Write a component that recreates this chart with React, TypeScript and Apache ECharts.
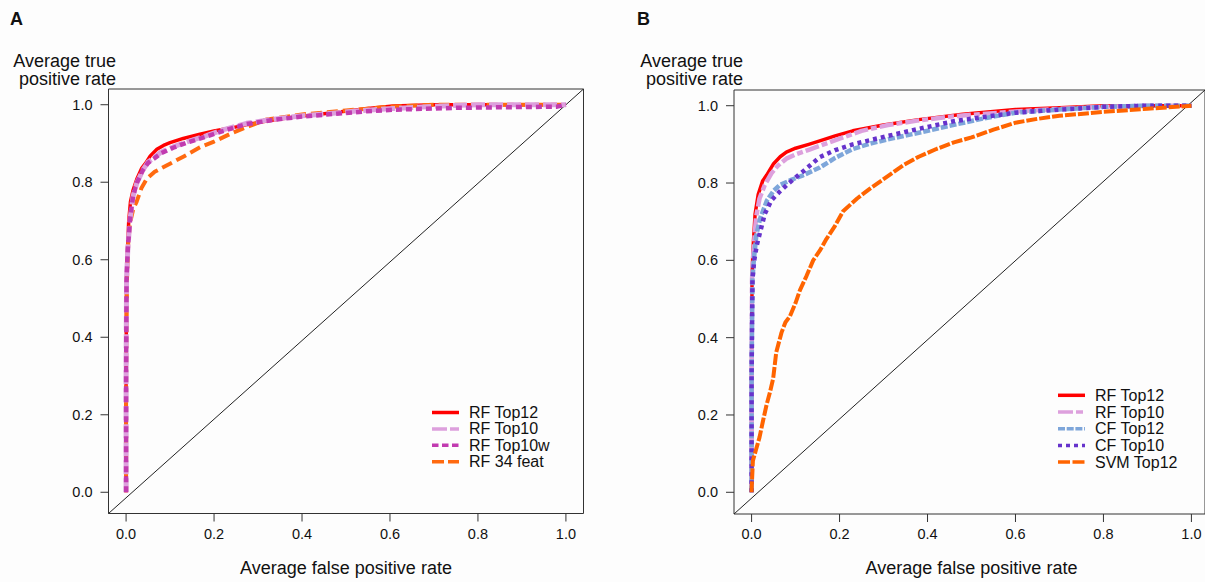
import React, { useEffect, useRef } from "react";
import * as echarts from "echarts";

// ---------- data (false positive rate, true positive rate) ----------
const tickMin = 0;
const tickMax = 1;
const tickStep = 0.2;
const tickValues = [0, 0.2, 0.4, 0.6, 0.8, 1.0];

const namesA = ["RF Top12", "RF Top10", "RF Top10w", "RF 34 feat"];
const namesB = ["RF Top12", "RF Top10", "CF Top12", "CF Top10", "SVM Top12"];

const rfTop12A = [
  [0, 0], [0, 0.3], [0.001, 0.55], [0.003, 0.62], [0.006, 0.7], [0.01, 0.75], [0.016, 0.78],
  [0.025, 0.81], [0.035, 0.835], [0.045, 0.85], [0.055, 0.868], [0.07, 0.885], [0.085, 0.895],
  [0.1, 0.902], [0.13, 0.913], [0.168, 0.924], [0.2, 0.932], [0.243, 0.941], [0.28, 0.95],
  [0.32, 0.958], [0.38, 0.968], [0.47, 0.979], [0.55, 0.99], [0.607, 0.997], [0.7, 1.0], [1, 1],
];
const rfTop10A = [
  [0, 0], [0, 0.3], [0.001, 0.55], [0.004, 0.63], [0.009, 0.705], [0.016, 0.765], [0.025, 0.8],
  [0.039, 0.833], [0.05, 0.852], [0.062, 0.862], [0.08, 0.878], [0.107, 0.891], [0.14, 0.905],
  [0.183, 0.92], [0.22, 0.935], [0.274, 0.952], [0.33, 0.962], [0.395, 0.971], [0.47, 0.978],
  [0.547, 0.986], [0.607, 0.99], [0.7, 0.996], [0.8, 1.0], [1, 1],
];
const rfTop10wA = [
  [0, 0], [0, 0.3], [0.001, 0.55], [0.004, 0.63], [0.009, 0.705], [0.016, 0.765], [0.025, 0.8],
  [0.039, 0.833], [0.05, 0.85], [0.062, 0.86], [0.08, 0.875], [0.107, 0.889], [0.14, 0.903],
  [0.183, 0.918], [0.22, 0.932], [0.274, 0.95], [0.33, 0.96], [0.395, 0.969], [0.47, 0.976],
  [0.547, 0.983], [0.607, 0.987], [0.75, 0.992], [0.9, 0.994], [0.98, 0.995], [1, 1],
];
const rf34FeatA = [
  [0, 0], [0, 0.3], [0.002, 0.55], [0.005, 0.65], [0.01, 0.7], [0.016, 0.73], [0.024, 0.75],
  [0.035, 0.785], [0.047, 0.809], [0.065, 0.827], [0.092, 0.843], [0.13, 0.866], [0.168, 0.89],
  [0.2, 0.905], [0.243, 0.928], [0.28, 0.945], [0.32, 0.962], [0.4, 0.975], [0.5, 0.985],
  [0.6, 0.995], [0.7, 1.0], [1, 1],
];

const rfTop12B = [
  [0, 0], [0, 0.3], [0.001, 0.55], [0.003, 0.626], [0.008, 0.72], [0.015, 0.77], [0.025, 0.805],
  [0.034, 0.82], [0.05, 0.85], [0.065, 0.868], [0.079, 0.88], [0.1, 0.89], [0.13, 0.9],
  [0.155, 0.909], [0.19, 0.922], [0.23, 0.935], [0.3, 0.95], [0.38, 0.964], [0.48, 0.978],
  [0.6, 0.99], [0.7, 0.995], [0.8, 1.0], [1, 1],
];
const rfTop10B = [
  [0, 0], [0, 0.3], [0.001, 0.55], [0.004, 0.62], [0.01, 0.71], [0.018, 0.76], [0.03, 0.795],
  [0.045, 0.825], [0.06, 0.845], [0.079, 0.863], [0.1, 0.874], [0.13, 0.886], [0.155, 0.896],
  [0.2, 0.915], [0.25, 0.935], [0.31, 0.95], [0.38, 0.962], [0.46, 0.973], [0.6, 0.985],
  [0.7, 0.992], [0.8, 0.997], [0.9, 1.0], [1, 1],
];
const cfTop12B = [
  [0, 0], [0, 0.3], [0.002, 0.55], [0.005, 0.6], [0.011, 0.667], [0.02, 0.71], [0.035, 0.755],
  [0.05, 0.78], [0.064, 0.795], [0.09, 0.808], [0.117, 0.82], [0.155, 0.84], [0.19, 0.865],
  [0.23, 0.888], [0.27, 0.902], [0.31, 0.913], [0.38, 0.93], [0.45, 0.948], [0.536, 0.969],
  [0.6, 0.982], [0.7, 0.99], [0.8, 0.997], [0.9, 1.0], [1, 1],
];
const cfTop10B = [
  [0, 0], [0, 0.3], [0.002, 0.55], [0.006, 0.6], [0.012, 0.64], [0.018, 0.667], [0.03, 0.72],
  [0.045, 0.755], [0.064, 0.778], [0.085, 0.8], [0.117, 0.83], [0.155, 0.867], [0.19, 0.885],
  [0.23, 0.9], [0.31, 0.922], [0.38, 0.94], [0.46, 0.96], [0.6, 0.982], [0.7, 0.99],
  [0.8, 0.997], [0.9, 1.0], [1, 1],
];
const svmTop12B = [
  [0, 0], [0, 0.006], [0.003, 0.082], [0.01, 0.11], [0.018, 0.142], [0.026, 0.185],
  [0.034, 0.226], [0.042, 0.26], [0.049, 0.294], [0.056, 0.362], [0.068, 0.413], [0.077, 0.44],
  [0.087, 0.455], [0.1, 0.49], [0.11, 0.523], [0.125, 0.56], [0.14, 0.6], [0.155, 0.625],
  [0.17, 0.655], [0.19, 0.69], [0.208, 0.727], [0.24, 0.76], [0.27, 0.786], [0.3, 0.81],
  [0.345, 0.846], [0.38, 0.868], [0.42, 0.888], [0.46, 0.905], [0.5, 0.918], [0.55, 0.938],
  [0.6, 0.956], [0.65, 0.966], [0.7, 0.974], [0.8, 0.984], [0.9, 0.992], [1, 1],
];
const diagonal = [[-0.04, -0.04], [1.04, 1.04]];

// ---------- styles / layout ----------
const FONT = "'Liberation Sans', Arial, sans-serif";
const AX = "#333333";
const PAD = 0.04; // R-style 4% axis extension
const TICK_LEN = 8;

const styleA = [
  { color: "#FF0000", width: 3.5, type: "solid" as any, legendDash: null },
  { color: "#DDA0DD", width: 5, type: [14, 4], legendDash: [15, 3, 9, 3] },
  { color: "#C13BB0", width: 4.5, type: [6, 4], legendDash: [6.5, 3.5] },
  { color: "#FF6A10", width: 4, type: [11, 5], legendDash: [12, 4] },
];
const styleB = [
  { color: "#FF0000", width: 3.5, type: "solid" as any, legendDash: null },
  { color: "#DDA0DD", width: 4.5, type: [14, 3, 6, 3], legendDash: [15, 3, 7, 3] },
  { color: "#7EA6DA", width: 4.5, type: [7, 2], legendDash: [7, 1.7] },
  { color: "#6633CC", width: 4.5, type: [4, 4], legendDash: [4, 4] },
  { color: "#FF6400", width: 4, type: [11, 2], legendDash: [12, 2.5] },
];

const boxes = [
  { left: 108.5, top: 89, width: 475, height: 424.5 },
  { left: 734, top: 90, width: 475, height: 424 },
];

function innerOf(b: { left: number; top: number; width: number; height: number }) {
  const span = tickMax - tickMin + 2 * PAD;
  const fx = PAD / span;
  return {
    left: b.left + b.width * fx,
    top: b.top + b.height * fx,
    width: (b.width * (tickMax - tickMin)) / span,
    height: (b.height * (tickMax - tickMin)) / span,
    offX: b.height * fx,
    offY: b.width * fx,
  };
}

function boxAxes(gridIndex: number) {
  const common = {
    gridIndex,
    type: "value",
    min: tickMin - PAD,
    max: tickMax + PAD,
    splitLine: { show: false },
    axisLine: { show: false, onZero: false },
    axisTick: { show: false },
    axisLabel: { show: false },
  };
  return { x: { ...common }, y: { ...common } };
}

function plotAxes(gridIndex: number, offX: number, offY: number) {
  const common = {
    gridIndex,
    type: "value",
    min: tickMin,
    max: tickMax,
    interval: tickStep,
    splitLine: { show: false },
    axisLine: { show: false, onZero: false },
    axisTick: { show: false },
  };
  const x = {
    ...common,
    offset: offX,
    axisLabel: {
      formatter: (v: number) => v.toFixed(1),
      margin: 18,
      color: "#111",
      fontSize: 14.5,
      fontFamily: FONT,
    },
    name: "Average false positive rate",
    nameLocation: "middle",
    nameGap: 51,
    nameTextStyle: { color: "#111", fontSize: 18, fontFamily: FONT },
  };
  const y = {
    ...common,
    offset: offY,
    axisLabel: {
      formatter: (v: number) => v.toFixed(1),
      margin: 16,
      color: "#111",
      fontSize: 14.5,
      fontFamily: FONT,
    },
  };
  return { x, y };
}

function lineSeries(name: string, data: number[][], idx: number, st: any) {
  return {
    name,
    type: "line",
    xAxisIndex: idx,
    yAxisIndex: idx,
    data,
    showSymbol: false,
    symbol: "none",
    smooth: false,
    clip: false,
    lineStyle: { color: st.color, width: st.width, type: st.type, cap: "butt", join: "round" },
    z: 3,
  };
}

function legendGraphic(names: string[], styles: any[], x1: number, y0: number, step: number) {
  const children: any[] = [];
  names.forEach((n, i) => {
    const y = y0 + i * step;
    const st = styles[i];
    children.push({
      type: "line",
      shape: { x1, y1: y, x2: x1 + 27, y2: y },
      style: { stroke: st.color, lineWidth: 3.5, lineDash: st.legendDash },
    });
    children.push({
      type: "text",
      x: x1 + 37,
      y,
      style: { text: n, fill: "#111", font: `16px ${FONT}`, verticalAlign: "middle", align: "left" },
    });
  });
  return { type: "group", children };
}

function yTitle(xRight: number) {
  return [
    {
      type: "text",
      x: xRight,
      y: 61,
      style: { text: "Average true", fill: "#111", font: `18px ${FONT}`, align: "right", verticalAlign: "middle" },
    },
    {
      type: "text",
      x: xRight,
      y: 79,
      style: { text: "positive rate", fill: "#111", font: `18px ${FONT}`, align: "right", verticalAlign: "middle" },
    },
  ];
}

// tick marks positioned with the chart's own scales (convertToPixel)
function tickGraphics(chart: any, boxGrid: number, plotGrid: number) {
  const children: any[] = [];
  const boxBottom = chart.convertToPixel({ gridIndex: boxGrid }, [tickMin - PAD, tickMin - PAD]);
  tickValues.forEach((v) => {
    const px = chart.convertToPixel({ gridIndex: plotGrid }, [v, v]);
    if (!px || !boxBottom) return;
    children.push({
      type: "line",
      shape: { x1: px[0], y1: boxBottom[1], x2: px[0], y2: boxBottom[1] + TICK_LEN },
      style: { stroke: AX, lineWidth: 1 },
    });
    children.push({
      type: "line",
      shape: { x1: boxBottom[0] - TICK_LEN, y1: px[1], x2: boxBottom[0], y2: px[1] },
      style: { stroke: AX, lineWidth: 1 },
    });
  });
  return { type: "group", children };
}

export default function App() {
  const ref = useRef<HTMLDivElement>(null);

  useEffect(() => {
    if (!ref.current) return;
    const chart = echarts.init(ref.current, null, { renderer: "svg" });
    const inA = innerOf(boxes[0]);
    const inB = innerOf(boxes[1]);
    const bA = boxAxes(0);
    const bB = boxAxes(1);
    const pA = plotAxes(2, inA.offX, inA.offY);
    const pB = plotAxes(3, inB.offX, inB.offY);

    const dataA = [rfTop12A, rfTop10A, rfTop10wA, rf34FeatA];
    const dataB = [rfTop12B, rfTop10B, cfTop12B, cfTop10B, svmTop12B];
    const orderA = [0, 3, 1, 2];
    const seriesA = orderA.map((i) => lineSeries(namesA[i], dataA[i], 2, styleA[i]));
    const seriesB = [0, 1, 2, 3, 4].map((i) => lineSeries(namesB[i], dataB[i], 3, styleB[i]));
    const diag = (idx: number) => ({
      name: "diagonal",
      type: "line",
      xAxisIndex: idx,
      yAxisIndex: idx,
      data: diagonal,
      symbol: "none",
      showSymbol: false,
      lineStyle: { color: "#222", width: 1 },
      z: 2,
    });

    const baseGraphics: any[] = [
      {
        type: "text",
        x: 10,
        y: 19,
        style: { text: "A", fill: "#111", font: `bold 18px ${FONT}`, verticalAlign: "middle" },
      },
      {
        type: "text",
        x: 637,
        y: 19,
        style: { text: "B", fill: "#111", font: `bold 18px ${FONT}`, verticalAlign: "middle" },
      },
      ...yTitle(116),
      ...yTitle(743),
      legendGraphic(namesA, styleA, 432, 412.5, 16.4),
      legendGraphic(namesB, styleB, 1058, 395.3, 16.7),
    ];

    chart.setOption({
      animation: false,
      backgroundColor: "#fdfdfd",
      textStyle: { fontFamily: FONT },
      grid: [
        { ...boxes[0], show: true, borderColor: AX, borderWidth: 1, backgroundColor: "transparent" },
        { ...boxes[1], show: true, borderColor: AX, borderWidth: 1, backgroundColor: "transparent" },
        { left: inA.left, top: inA.top, width: inA.width, height: inA.height, show: false },
        { left: inB.left, top: inB.top, width: inB.width, height: inB.height, show: false },
      ],
      xAxis: [bA.x, bB.x, pA.x, pB.x],
      yAxis: [bA.y, bB.y, pA.y, pB.y],
      series: [diag(0), diag(1), ...seriesA, ...seriesB],
      graphic: baseGraphics,
    });

    try {
      const ticks = [tickGraphics(chart, 0, 2), tickGraphics(chart, 1, 3)];
      chart.setOption({ graphic: [...baseGraphics, ...ticks] });
    } catch (e) {
      // keep the chart even if tick placement fails
    }

    return () => chart.dispose();
  }, []);

  return (
    <div
      ref={ref}
      style={{ position: "fixed", left: 0, top: 0, width: 1205, height: 582, background: "#fdfdfd" }}
    />
  );
}
